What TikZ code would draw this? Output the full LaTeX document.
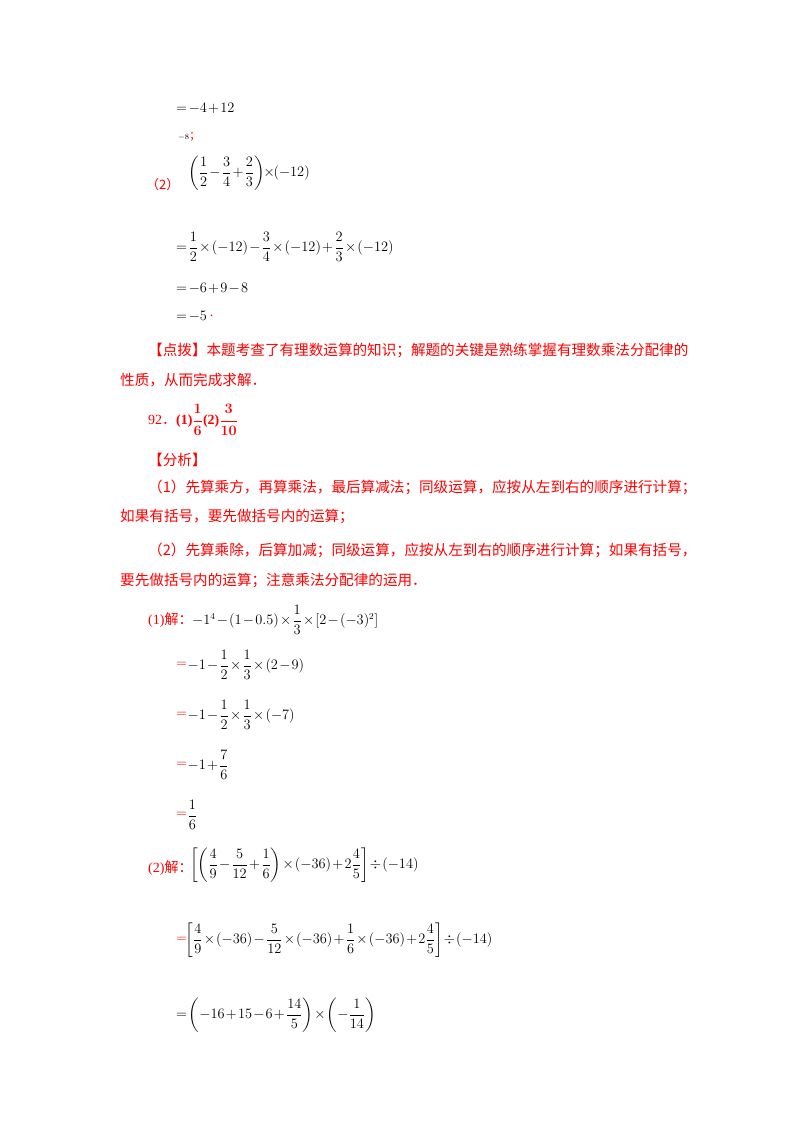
\documentclass[tikz,border=0pt]{standalone}
\usepackage{fontspec}
\usepackage{amsmath}
\setmainfont{Liberation Serif}
\newfontfamily\cjk{Noto Sans CJK SC}
\medmuskip=1.5mu plus 1mu minus 1mu
\thickmuskip=2mu plus 1mu
\begin{document}
\begin{tikzpicture}[x=1pt,y=-1pt,
  mt/.style={anchor=west,inner sep=0pt,font=\fontsize{13.5}{15}\selectfont},
  ct/.style={anchor=west,inner sep=0pt,text=red,font=\cjk\fontsize{14.6}{18}\selectfont},
  rl/.style={anchor=west,inner sep=0pt,text=red,font=\fontsize{14}{16}\selectfont}]
\useasboundingbox[fill=white] (0,0) rectangle (800,1132);
\node[mt] (a1) at (176,108) {$=-4+12$};
\node[mt,font=\fontsize{8}{9}\selectfont] (a2) at (178,137) {$-8$};
\node[rl,font=\cjk\fontsize{11}{12}\selectfont] (a2r) at (a2.east) {；};
\node[rl,font=\cjk\fontsize{13}{14}\selectfont] (b0) at (146,185) {（2）};
\node[mt] (b1) at (188,173) {$\left(\dfrac12-\dfrac34+\dfrac23\right)\!\times\!(-12)$};
\node[mt] (b2) at (176,247) {$=\dfrac12\times(-12)-\dfrac34\times(-12)+\dfrac23\times(-12)$};
\node[mt] (b3) at (176,288) {$=-6+9-8$};
\node[mt] (b4) at (176,316) {$=-5$};
\node[rl] (b4r) at (b4.east) {\,.};
\node[ct] (c1) at (148,350) {【点拨】本题考查了有理数运算的知识；解题的关键是熟练掌握有理数乘法分配律的};
\node[ct] (c2) at (120,380) {性质，从而完成求解．};
\node[rl] (d1) at (148,420) {92{\cjk ．}\textbf{(1)}$\boldsymbol{\dfrac16}$\textbf{(2)}$\boldsymbol{\dfrac{3}{10}}$};
\node[ct] (e1) at (148,460) {【分析】};
\node[ct] (e2) at (148,487) {（1）先算乘方，再算乘法，最后算减法；同级运算，应按从左到右的顺序进行计算；};
\node[ct] (e3) at (120,517) {如果有括号，要先做括号内的运算；};
\node[ct] (e4) at (148,550) {（2）先算乘除，后算加减；同级运算，应按从左到右的顺序进行计算；如果有括号，};
\node[ct] (e5) at (120,580) {要先做括号内的运算；注意乘法分配律的运用．};
\node[rl] (f0) at (148,620) {(1)\cjk 解：};
\node[mt] (f1) at (192,620) {$-1^4-(1-0.5)\times\dfrac13\times\left[2-(-3)^2\right]$};
\node[rl] (g1e) at (176,665) {$=$};
\node[mt] (g1) at (g1e.east) {$-1-\dfrac12\times\dfrac13\times(2-9)$};
\node[rl] (g2e) at (176,715) {$=$};
\node[mt] (g2) at (g2e.east) {$-1-\dfrac12\times\dfrac13\times(-7)$};
\node[rl] (g3e) at (176,765) {$=$};
\node[mt] (g3) at (g3e.east) {$-1+\dfrac76$};
\node[rl] (g4e) at (176,815) {$=$};
\node[mt] (g4) at (g4e.east) {$\dfrac16$};
\node[rl] (h0) at (148,868) {(2)\cjk 解：};
\node[mt] (h1) at (190,865) {$\left[\left(\dfrac49-\dfrac5{12}+\dfrac16\right)\times(-36)+2\dfrac45\right]\div(-14)$};
\node[rl] (h2e) at (176,940) {$=$};
\node[mt] (h2) at ([xshift=-2pt]h2e.east) {$\left[\dfrac49\times(-36)-\dfrac5{12}\times(-36)+\dfrac16\times(-36)+2\dfrac45\right]\div(-14)$};
\node[mt] (h3) at (176,1015) {$=\left(-16+15-6+\dfrac{14}5\right)\times\left(-\dfrac1{14}\right)$};
\end{tikzpicture}
\end{document}
